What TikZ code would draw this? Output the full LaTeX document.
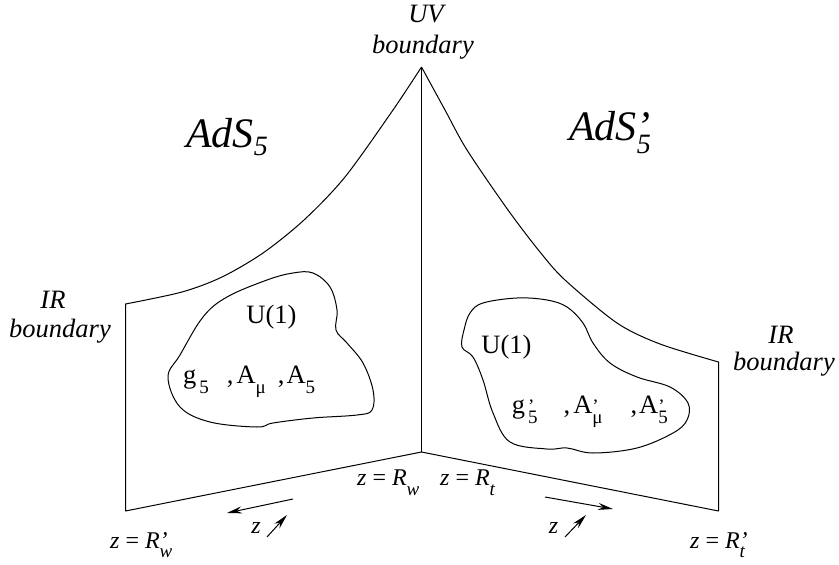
\documentclass[tikz,border=0pt]{standalone}
\usepackage{fontspec}
\setmainfont{Liberation Serif}
\usetikzlibrary{arrows.meta}
\tikzstyle{wall}  = [line width=1pt, line join=round]
\tikzstyle{arrow} = [line width=1pt, -{Stealth[length=15pt,width=7pt,inset=5pt]}]
\tikzstyle{bdry}  = [font=\itshape\fontsize{26.5}{26.5}\selectfont, inner sep=0pt, anchor=base]
\tikzstyle{ads}   = [font=\itshape\fontsize{42}{42}\selectfont, inner sep=0pt, anchor=base west]
\tikzstyle{field} = [font=\fontsize{26.5}{26.5}\selectfont, inner sep=0pt]
\tikzstyle{zlab}  = [font=\fontsize{24}{24}\selectfont, inner sep=0pt, anchor=base west]
\newcommand{\lowsub}[2]{\raisebox{-#1}{\fontsize{19}{19}\selectfont #2}}
\newcommand{\primesub}[1]{\makebox[0pt][l]{\raisebox{1pt}{\fontsize{19}{19}\selectfont'}}\lowsub{10pt}{#1}}

\begin{document}
\begin{tikzpicture}[x=1pt,y=-1pt]
\useasboundingbox (0,0) rectangle (839,565);

\coordinate (UV) at (421.5,67);
\coordinate (C)  at (421.5,452);
\coordinate (L1) at (125.5,304);
\coordinate (L2) at (125.5,511);
\coordinate (R1) at (718.5,362);
\coordinate (R2) at (718.5,511);

\draw[wall] plot[smooth] coordinates {(421.5,67) (393,110) (345,177) (304,220) (263,253) (222,277) (182,292) (125.5,304)}
  -- (L2) -- (C) -- (R2) -- (R1)
  -- plot[smooth] coordinates {(718.5,362) (660,344) (617,323) (565,280) (540,252) (508,210) (467,150) (445,110) (421.5,67)};
\draw[wall] (UV) -- (C);

\draw[wall] plot[smooth cycle, tension=0.6] coordinates {(293,273) (313,273) (330,287) (337,310) (336,330) (347,343) (363,363) (373,390) (372,410) (357,415) (313,418) (273,423) (257,427) (210,422) (180,407) (168,377) (180,355) (203,317) (227,297) (267,280)};
\draw[wall] plot[smooth cycle, tension=0.6] coordinates {(483,303) (517,298) (547,300) (567,307) (583,323) (593,343) (610,363) (637,377) (670,387) (688,403) (687,420) (673,433) (637,448) (593,453) (567,448) (547,449) (510,442) (493,413) (483,380) (473,357) (462,347) (464,330) (470,313)};

\node[bdry] (uv)   at (426,22)  {UV};
\node[bdry] (uvb)  at (423,53)  {boundary};
\node[bdry] (irl)  at (53,308)  {IR};
\node[bdry] (irlb) at (60,337)  {boundary};
\node[bdry] (irr)  at (781,343) {IR};
\node[bdry] (irrb) at (784,370) {boundary};

\node[ads] (adsl) at (186,147) {AdS\raisebox{-8pt}{\fontsize{28}{28}\selectfont 5}};
\node[ads] (adsr) at (569,140) {AdS\makebox[0pt][l]{'}\raisebox{-13pt}{\fontsize{28}{28}\selectfont 5}};

\node[field, anchor=base] (u1l) at (271.5,323) {U(1)};
\node[field, anchor=base west] (fl) at (183,383) {g\hspace{3pt}\lowsub{10pt}{5}\hspace{18pt},\hspace{3pt}A\lowsub{10pt}{μ}\hspace{12pt},\hspace{2pt}A\lowsub{10pt}{5}};
\node[field, anchor=base] (u1r) at (506.5,353) {U(1)};
\node[field, anchor=base west] (fr) at (511.7,413) {g\hspace{3pt}\primesub{5}\hspace{26pt},\hspace{3pt}A\primesub{μ}\hspace{28pt},\hspace{2pt}A\primesub{5}};

\node[zlab] (rw)  at (357,485) {\textit{z} = \textit{R}\lowsub{10pt}{\textit{w}}};
\node[zlab] (rt)  at (440,485) {\textit{z} = \textit{R}\lowsub{10pt}{\textit{t}}};
\node[zlab] (rwp) at (110,548) {\textit{z} = \textit{R}\makebox[0pt][l]{\textit{'}}\lowsub{9pt}{\textit{w}}};
\node[zlab] (rtp) at (690,548) {\textit{z} = \textit{R}\makebox[0pt][l]{\textit{'}}\lowsub{9pt}{\textit{t}}};

\coordinate (al0) at (293,499);
\coordinate (al1) at (227,513);
\coordinate (dl0) at (267,537);
\coordinate (dl1) at (287,515);
\coordinate (ar0) at (545,497);
\coordinate (ar1) at (613,509);
\coordinate (dr0) at (565,537);
\coordinate (dr1) at (586,515);
\draw[arrow] (al0) -- (al1);
\draw[arrow] (dl0) -- (dl1);
\draw[arrow] (ar0) -- (ar1);
\draw[arrow] (dr0) -- (dr1);
\node[zlab, anchor=base] (zl) at (256,533)   {\textit{z}};
\node[zlab, anchor=base] (zr) at (553.5,533) {\textit{z}};

\end{tikzpicture}
\end{document}
